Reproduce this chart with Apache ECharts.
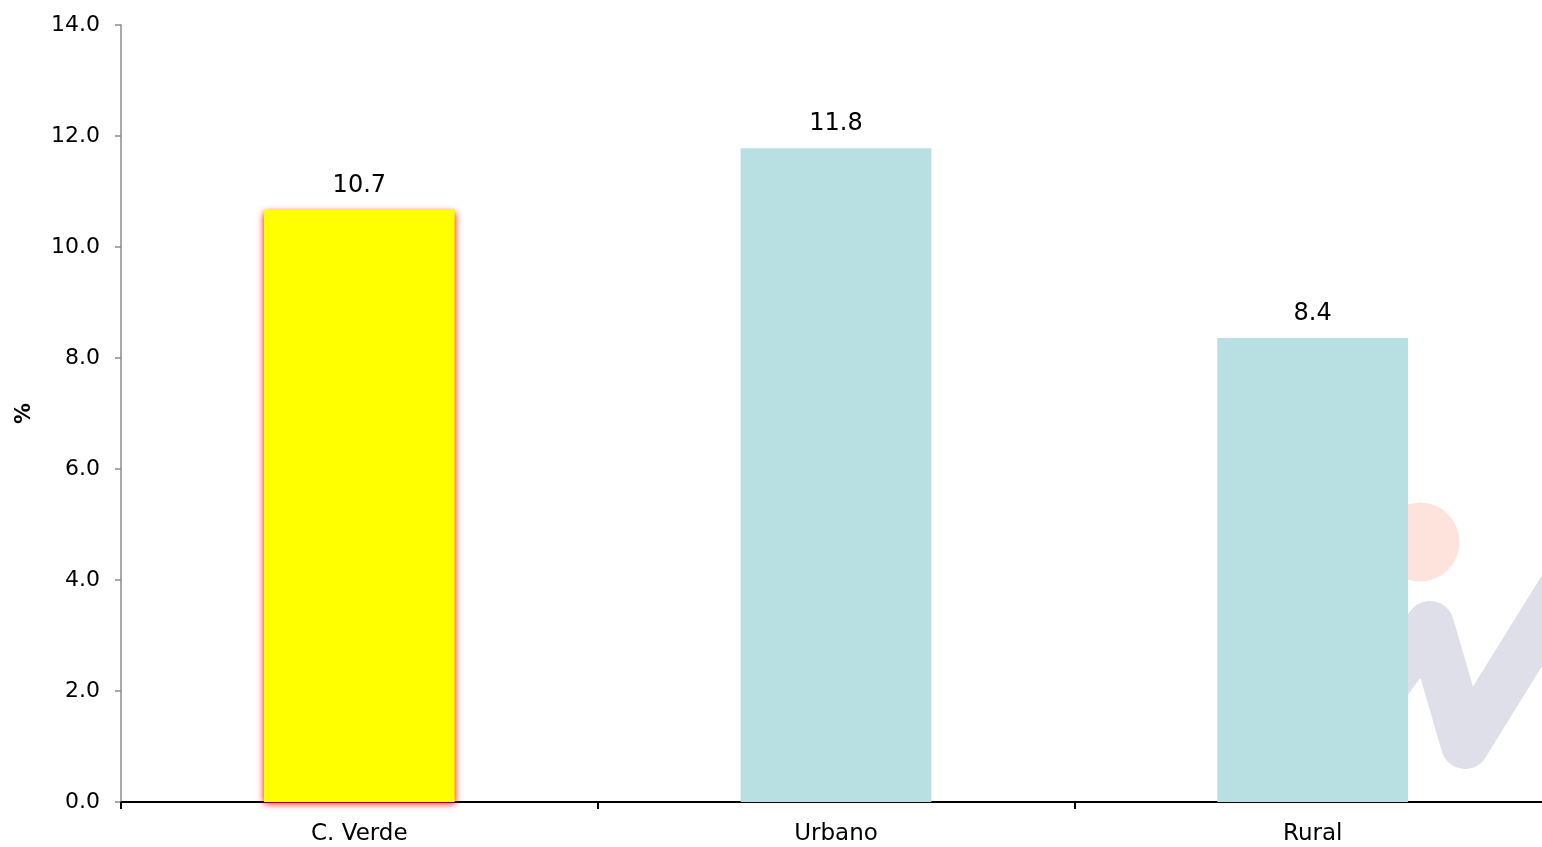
<!DOCTYPE html>
<html>
<head>
<meta charset="utf-8">
<script src="https://cdn.jsdelivr.net/npm/echarts@6/dist/echarts.min.js"></script>
<style>
html,body{margin:0;padding:0;background:#fff;}
#chart{width:1542px;height:847px;}
</style>
</head>
<body>
<div id="chart"></div>
<script>
const categories = ['C. Verde', 'Urbano', 'Rural'];
const values = [10.67, 11.78, 8.36];
const yTicks = [0, 2, 4, 6, 8, 10, 12, 14];
const axisName = '%';

const FONT = 'DejaVu Sans';
const chart = echarts.init(document.getElementById('chart'), null, {renderer: 'canvas'});

const seriesData = values.map((v, i) => ({
  value: v,
  itemStyle: i === 0
    ? {color: '#ffff00', shadowColor: '#ff0000', shadowBlur: 7, shadowOffsetY: 2}
    : {color: '#b8dfe2'}
}));

chart.setOption({
  animation: false,
  backgroundColor: '#ffffff',
  grid: {left: 121, top: 25, bottom: 45, right: -9, containLabel: false, outerBoundsMode: 'none'},
  graphic: {
    elements: [
      {type: 'circle', z: 0, silent: true, shape: {cx: 1420, cy: 542, r: 39.5}, style: {fill: '#fde3dc'}},
      {type: 'polyline', z: 0, silent: true,
        shape: {points: [[1329, 760], [1430, 625], [1465, 745], [1592, 540]]},
        style: {stroke: '#dfdfea', lineWidth: 48, lineCap: 'round', lineJoin: 'round', fill: null}}
    ]
  },
  xAxis: {
    type: 'category',
    data: categories,
    axisLine: {lineStyle: {color: '#000', width: 2}},
    axisTick: {show: true, length: 7, lineStyle: {color: '#000', width: 2}},
    axisLabel: {color: '#000', fontFamily: FONT, fontSize: 23, margin: 21}
  },
  yAxis: {
    type: 'value',
    min: yTicks[0],
    max: yTicks[yTicks.length - 1],
    interval: 2,
    name: axisName,
    nameLocation: 'middle',
    nameGap: 86,
    nameRotate: 90,
    nameTextStyle: {color: '#000', fontFamily: FONT, fontSize: 21, fontWeight: 'bold'},
    axisLine: {show: true, lineStyle: {color: '#8c8c8c', width: 1.5}},
    axisTick: {show: true, length: 6, lineStyle: {color: '#8c8c8c', width: 1.5}},
    splitLine: {show: false},
    axisLabel: {color: '#000', fontFamily: FONT, fontSize: 22, margin: 21,
      formatter: v => v.toFixed(1)}
  },
  series: [{
    type: 'bar',
    data: seriesData,
    barWidth: '40%',
    z: 2,
    label: {
      show: true,
      position: 'top',
      distance: 12,
      color: '#000',
      fontFamily: FONT,
      fontSize: 24,
      formatter: p => p.value.toFixed(1)
    }
  }]
});
</script>
</body>
</html>
